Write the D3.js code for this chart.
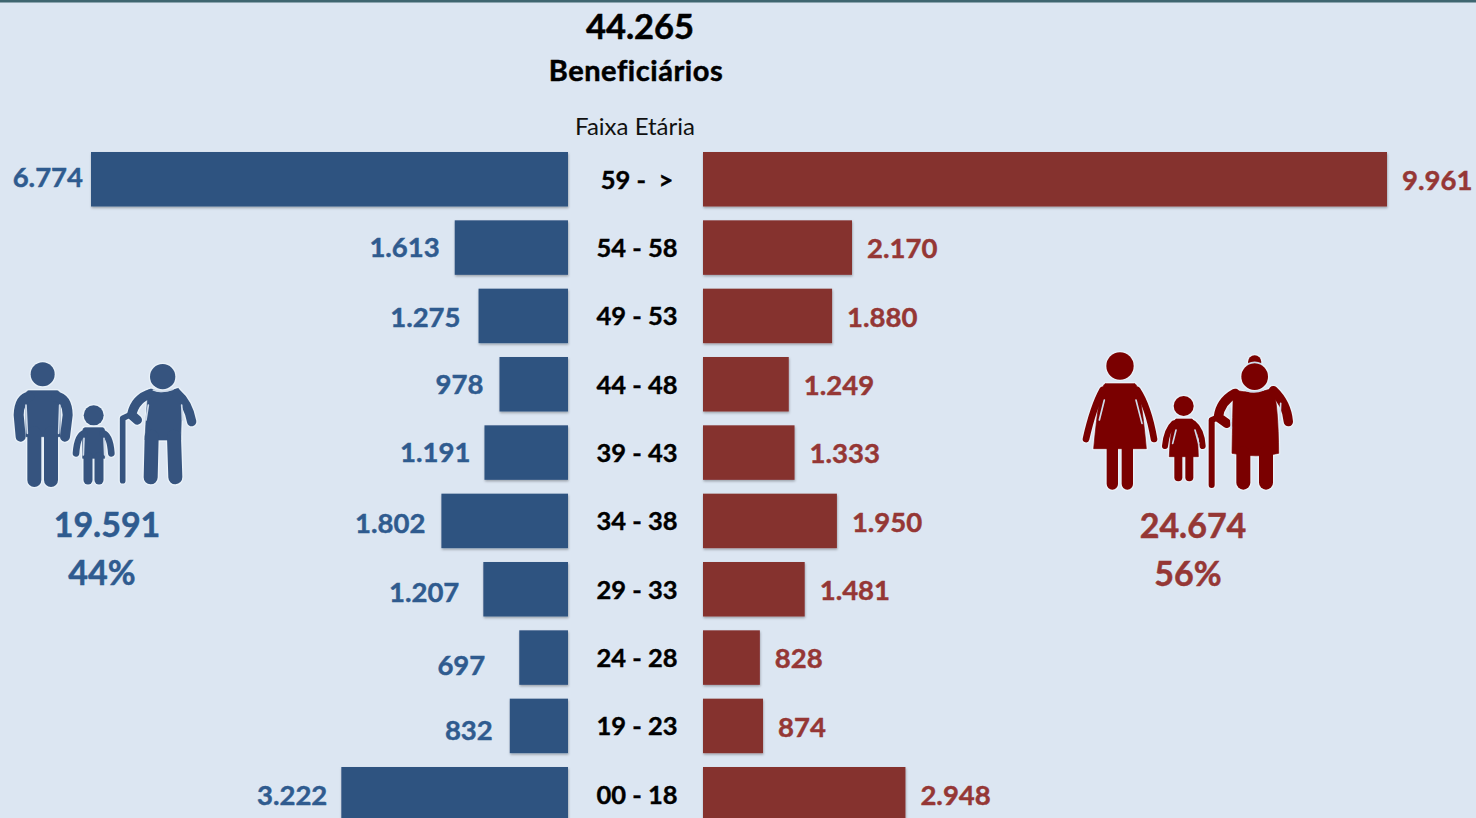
<!DOCTYPE html>
<html><head><meta charset="utf-8">
<script src="https://cdn.jsdelivr.net/npm/d3@7/dist/d3.min.js"></script>
<style>html,body{margin:0;padding:0;background:#dce6f2;overflow:hidden}svg{display:block}text{font-family:Lato,Carlito,"Open Sans",sans-serif;font-variant-ligatures:none}</style>
</head><body><svg id="c" width="1476" height="818"></svg>
<script>
const ageBands=["59 -  >","54 - 58","49 - 53","44 - 48","39 - 43","34 - 38","29 - 33","24 - 28","19 - 23","00 - 18"];
const leftValues=[6774,1613,1275,978,1191,1802,1207,697,832,3222];
const rightValues=[9961,2170,1880,1249,1333,1950,1481,828,874,2948];
const totalLabel="44.265", titleLabel="Beneficiários", axisLabel="Faixa Etária";
const leftTotal="19.591", leftPct="44%", rightTotal="24.674", rightPct="56%";
// hand-placed label offsets in the original slide
const leftGap=[8,15,18,16,14,16,24,34,17,14];
const leftDy=[-2,0,1,0,0,2,3,8,4,1];

const BLUE="#2f5280",RED="#85302f",TBLUE="#2f5b8f",TRED="#953735",DARKRED="#7a0000",ICONBLUE="#36547f",BG="#dce6f2";
const svg=d3.select("#c");
const defs=svg.append("defs");
const f=defs.append("filter").attr("id","sh").attr("x","-5%").attr("y","-5%").attr("width","110%").attr("height","115%");
f.append("feDropShadow").attr("dx",0.5).attr("dy",1.5).attr("stdDeviation",1).attr("flood-color","#000").attr("flood-opacity",0.3);
svg.append("rect").attr("width",1476).attr("height",818).attr("fill",BG);
svg.append("rect").attr("width",1476).attr("height",2.5).attr("fill","#3f6670");

const y=d3.scalePoint().domain(ageBands).range([152,767]);
const barH=54.5;
const xL=d3.scaleLinear().domain([0,6774]).range([568.4,91]);
const xR=d3.scaleLinear().domain([0,9961]).range([703,1387]);
const fmt=v=>d3.format(",")(v).replace(/,/g,".");
const rows=ageBands.map((a,i)=>({a,i,l:leftValues[i],r:rightValues[i]}));
const bold=(s,c,w)=>s.attr("font-weight",700).attr("fill",c).attr("stroke",c).attr("stroke-width",w||0.45);

svg.append("g").selectAll("rect").data(rows).join("rect")
 .attr("x",d=>xL(d.l)).attr("y",d=>y(d.a)).attr("width",d=>568-xL(d.l)).attr("height",barH)
 .attr("fill",BLUE).attr("filter","url(#sh)");
svg.append("g").selectAll("rect").data(rows).join("rect")
 .attr("x",xR(0)).attr("y",d=>y(d.a)).attr("width",d=>xR(d.r)-xR(0)).attr("height",barH)
 .attr("fill",RED).attr("filter","url(#sh)");

bold(svg.append("g").selectAll("text").data(rows).join("text")
 .attr("x",d=>xL(d.l)-leftGap[d.i]).attr("y",d=>y(d.a)+37+leftDy[d.i]).attr("text-anchor","end")
 .attr("font-size",27.5).text(d=>fmt(d.l)),TBLUE);
bold(svg.append("g").selectAll("text").data(rows).join("text")
 .attr("x",d=>xR(d.r)+15).attr("y",d=>y(d.a)+38).attr("text-anchor","start")
 .attr("font-size",27.5).text(d=>fmt(d.r)),TRED);
bold(svg.append("g").selectAll("text").data(rows).join("text")
 .attr("x",637).attr("y",d=>y(d.a)+36.5).attr("text-anchor","middle").style("white-space","pre")
 .attr("font-size",25.5).text(d=>d.a),"#000",0.4);

const T=(x,y,s,fs,c,a)=>svg.append("text").attr("x",x).attr("y",y).attr("font-size",fs).attr("fill",c).attr("text-anchor",a||"middle").text(s);
bold(T(640,38.5,totalLabel,34.5,"#000"),"#000",0.5);
bold(T(636,81,titleLabel,29,"#000").attr("letter-spacing",0.55),"#000",0.5);
T(635,135,axisLabel,24,"#111");
bold(T(107,537,leftTotal,34,TBLUE),TBLUE,0.5);
bold(T(102,585,leftPct,34,TBLUE),TBLUE,0.5);
bold(T(1193,538,rightTotal,34,TRED),TRED,0.5);
bold(T(1188,586,rightPct,34,TRED),TRED,0.5);

function icon(ox,oy,col,parts,gaps){
 const halo=svg.append("g").attr("transform",`translate(${ox},${oy}) scale(${1/3})`);
 const main=svg.append("g").attr("transform",`translate(${ox},${oy}) scale(${1/3})`);
 const draw=(g,extra,c)=>parts.forEach(p=>{
  if(p.c) g.append("circle").attr("cx",p.c[0]).attr("cy",p.c[1]).attr("r",p.c[2]+extra/2).attr("fill",c);
  if(p.f) g.append("path").attr("d",p.f).attr("fill",c).attr("stroke",c).attr("stroke-width",extra+2).attr("stroke-linejoin","round");
  if(p.s) g.append("path").attr("d",p.s).attr("fill","none").attr("stroke",c).attr("stroke-width",p.w+extra).attr("stroke-linecap","round").attr("stroke-linejoin","round");
 });
 draw(halo,8,"#eaf2f9");
 draw(main,0,col);
 gaps.forEach(d=>main.append("path").attr("d",d).attr("fill","none").attr("stroke","#cfdbea").attr("stroke-width",5).attr("stroke-linecap","round"));
}
icon(0,340,ICONBLUE,[
 {c:[128,103,36]},
 {f:"M85,152 H172 Q180,152 180,170 V290 H78 V170 Q78,152 85,152Z"},
 {s:"M88,170 Q58,175 56,225 L62,290",w:30},{s:"M168,170 Q202,175 203,225 L195,290",w:30},
 {s:"M103,280 L103,420",w:42},{s:"M153,280 L153,420",w:42},
 {c:[281,226,30]},
 {f:"M255,263 H308 Q314,263 314,275 V355 H248 V275 Q248,263 255,263Z"},
 {s:"M254,280 Q232,285 228,340",w:20},{s:"M308,280 Q330,285 334,340",w:20},
 {s:"M264,350 L264,420",w:27},{s:"M297,350 L297,420",w:27},
 {c:[488,110,38]},
 {f:"M445,150 Q488,165 535,145 Q545,160 545,200 L542,300 H435 Q440,200 445,150Z"},
 {s:"M455,160 Q405,175 395,225 L412,240",w:28},{s:"M530,160 Q565,190 575,245",w:28},
 {s:"M455,290 L452,412",w:42},{s:"M522,290 L526,412",w:42},
 {s:"M368,422 L368,235 L395,222",w:17}
],["M78,195 L82,280","M179,195 L176,280","M252,295 L250,345","M312,295 L314,345","M460,150 Q488,160 518,148","M445,195 L438,240","M545,195 L548,240"]);
icon(1070,340,DARKRED,[
 {c:[150,78,41]},
 {f:"M105,131 H195 Q212,140 229,326 H71 Q88,140 105,131Z"},
 {s:"M98,150 Q70,200 48,297",w:20},{s:"M202,150 Q235,200 252,297",w:20},
 {s:"M127,325 L127,432",w:34},{s:"M172,325 L172,432",w:34},
 {c:[341,198,30]},
 {f:"M318,237 H366 Q382,245 385,350 H298 Q302,245 318,237Z"},
 {s:"M312,250 Q290,270 285,318",w:18},{s:"M370,250 Q395,270 398,318",w:18},
 {s:"M325,350 L325,412",w:24},{s:"M358,350 L358,412",w:24},
 {c:[554,66,20]},
 {c:[554,110,40]},
 {f:"M490,150 Q554,165 610,145 Q625,200 626,340 Q560,355 486,340 Q488,220 490,150Z"},
 {s:"M495,160 Q450,185 445,232 L470,250",w:28},{s:"M610,152 Q650,190 655,245",w:28},
 {s:"M520,340 L520,428",w:42},{s:"M588,340 L588,428",w:42},
 {s:"M425,435 L425,240 L445,232",w:18}
],["M103,180 L88,240","M198,180 L216,250","M318,270 L308,310","M375,270 L386,310","M530,152 Q554,160 580,150","M534,72 Q554,62 574,72","M480,205 L484,265","M632,190 L630,240"]);
</script></body></html>
